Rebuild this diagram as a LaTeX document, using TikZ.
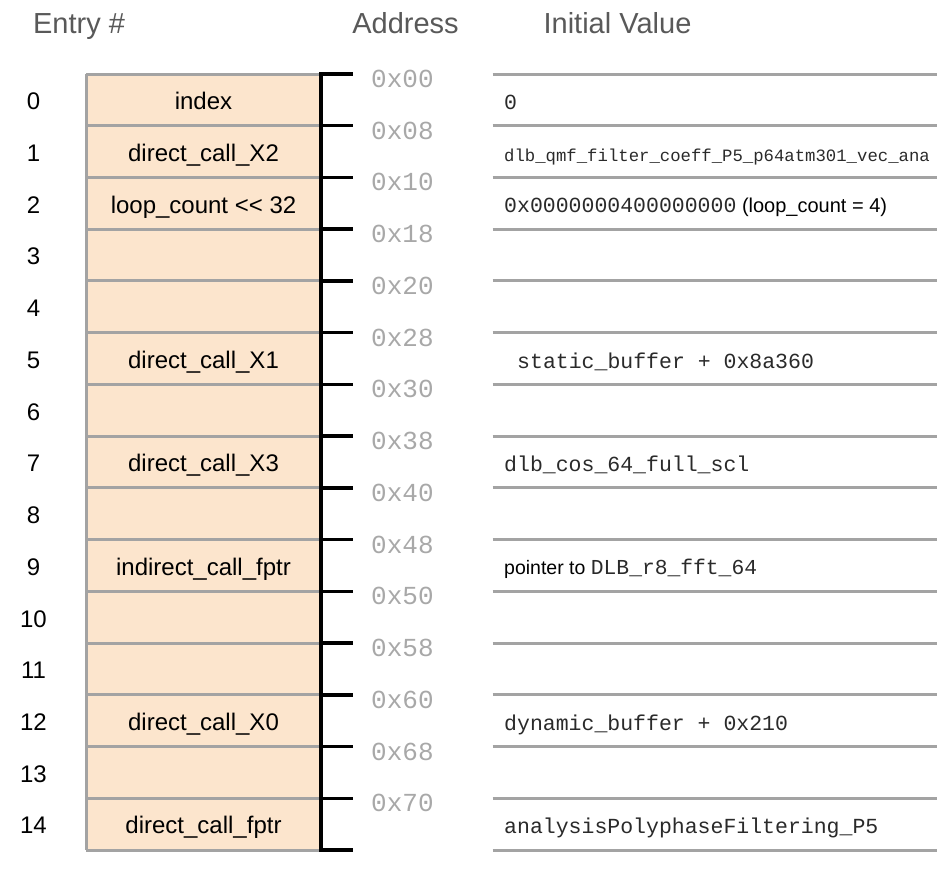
\documentclass[tikz,border=0pt]{standalone}
\usepackage{fontspec}
\setmainfont{Liberation Sans}
\setmonofont{Liberation Mono}
\definecolor{peach}{HTML}{FCE5CD}
\definecolor{rulegray}{HTML}{A3A3A3}
\definecolor{addrgray}{HTML}{A8A8A8}
\definecolor{titlegray}{HTML}{595959}
\definecolor{monotext}{HTML}{2A2A2A}
\begin{document}
\begin{tikzpicture}[x=1pt,y=-1pt,
  titlelbl/.style={font=\fontsize{29}{29}\selectfont, text=titlegray, anchor=base, inner sep=0pt},
  entrylbl/.style={font=\fontsize{24}{24}\selectfont, anchor=base, inner sep=0pt},
  celllbl/.style={font=\fontsize{24}{24}\selectfont, anchor=base, inner sep=0pt},
  addrlbl/.style={font=\ttfamily\fontsize{26}{26}\selectfont, text=addrgray, anchor=base west, inner sep=0pt},
  vallbl/.style={font=\ttfamily\fontsize{21.5}{21.5}\selectfont, text=monotext, anchor=base west, inner sep=0pt},
  grayrule/.style={draw=rulegray, line width=3pt},
  blackrule/.style={draw=black, line width=3.5pt}
]
\useasboundingbox (0,0) rectangle (947,876);
\def\top{74}
\def\rh{51.733}
% titles
\node[titlelbl] (tEntry) at (79,33.5) {Entry \#};
\node[titlelbl] (tAddr) at (405.5,33.5) {Address};
\node[titlelbl] (tInit) at (617.5,33.5) {Initial Value};
% box fill
\fill[peach] (86,\top) rectangle (321,850);
% gray row lines in the box and on the right
\foreach \i in {0,...,15}{
  \pgfmathsetmacro{\yy}{\top+\rh*\i}
  \draw[grayrule] (86,\yy) -- (321,\yy);
  \draw[grayrule] (492.5,\yy) -- (937,\yy);
}
\draw[grayrule] (86,\top) -- (86,850);
% black address scale
\draw[blackrule] (321,\top-1.75) -- (321,851.75);
\foreach \i in {0,...,15}{
  \pgfmathsetmacro{\yy}{\top+\rh*\i}
  \draw[blackrule] (321,\yy) -- (353,\yy);
}
% entry numbers
\foreach \i in {0,...,14}{
  \pgfmathsetmacro{\yy}{\top+\rh*(\i+0.5)+9.8}
  \node[entrylbl] (e\i) at (33.5,\yy) {\i};
}
% cell labels
\foreach \i/\t in {0/index,1/direct\_call\_X2,2/loop\_count <{}< 32,5/direct\_call\_X1,7/direct\_call\_X3,9/indirect\_call\_fptr,12/direct\_call\_X0,14/direct\_call\_fptr}{
  \pgfmathsetmacro{\yy}{\top+\rh*(\i+0.5)+9.8}
  \node[celllbl] (c\i) at (203.5,\yy) {\t};
}
% addresses
\foreach \i/\a in {0/00,1/08,2/10,3/18,4/20,5/28,6/30,7/38,8/40,9/48,10/50,11/58,12/60,13/68,14/70}{
  \pgfmathsetmacro{\yy}{\top+\rh*\i+13.5}
  \node[addrlbl] (a\i) at (371,\yy) {0x\a};
}
% initial values
\pgfmathsetmacro{\yv}{\top+\rh*0.5+9.5}
\node[vallbl] (v0) at (504,\yv) {0};
\pgfmathsetmacro{\yv}{\top+\rh*1.5+9.5}
\node[vallbl, font=\ttfamily\fontsize{17.3}{17.3}\selectfont] (v1) at (504,\yv) {dlb\_qmf\_filter\_coeff\_P5\_p64atm301\_vec\_ana};
\pgfmathsetmacro{\yv}{\top+\rh*2.5+9.5}
\node[vallbl] (v2) at (504,\yv) {0x0000000400000000\color{black}\rmfamily\fontsize{20}{20}\selectfont{} (loop\_count = 4)};
\pgfmathsetmacro{\yv}{\top+\rh*5.5+9.5}
\node[vallbl] (v5) at (517,\yv) {static\_buffer + 0x8a360};
\pgfmathsetmacro{\yv}{\top+\rh*7.5+9.5}
\node[vallbl] (v7) at (504,\yv) {dlb\_cos\_64\_full\_scl};
\pgfmathsetmacro{\yv}{\top+\rh*9.5+9.5}
\node[vallbl, text=black, font=\rmfamily\fontsize{19.5}{19.5}\selectfont] (v9) at (504,\yv) {pointer to {\color{monotext}\ttfamily\fontsize{21.3}{21.3}\selectfont DLB\_r8\_fft\_64}};
\pgfmathsetmacro{\yv}{\top+\rh*12.5+9.5}
\node[vallbl] (v12) at (504,\yv) {dynamic\_buffer + 0x210};
\pgfmathsetmacro{\yv}{\top+\rh*14.5+9.5}
\node[vallbl] (v14) at (504,\yv) {analysisPolyphaseFiltering\_P5};
\end{tikzpicture}
\end{document}
